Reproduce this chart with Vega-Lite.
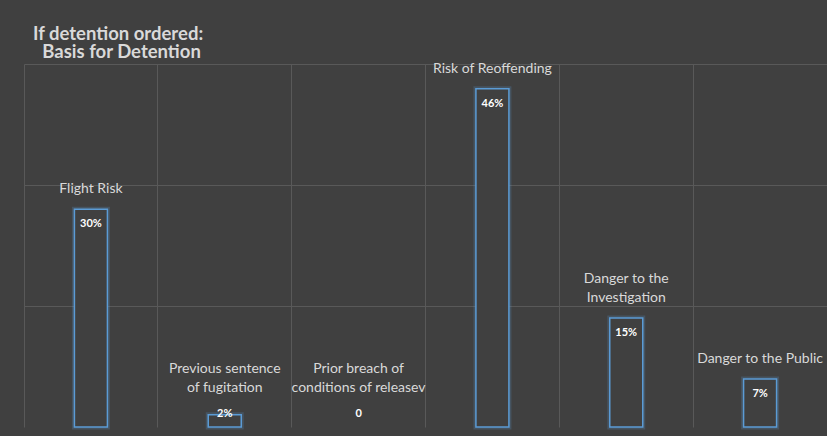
{
  "$schema": "https://vega.github.io/schema/vega-lite/v6.json",
  "autosize": {"type": "none"},
  "width": 803,
  "height": 363,
  "padding": {"left": 24, "top": 64, "right": 0, "bottom": 9},
  "background": "#404040",
  "title": {
    "text": "If detention ordered:",
    "subtitle": "\u200B\u2002Basis for Detention",
    "anchor": "start",
    "frame": "group",
    "dx": 9,
    "offset": 0,
    "subtitlePadding": 0,
    "font": "Lato",
    "fontSize": 18.5,
    "fontWeight": "bold",
    "color": "#D9D9D9",
    "subtitleFont": "Lato",
    "subtitleFontSize": 18.5,
    "subtitleFontWeight": "bold",
    "subtitleColor": "#D9D9D9",
    "subtitleLineHeight": 18
  },
  "config": {
    "view": {"stroke": null},
    "axis": {"gridColor": "#595959", "gridWidth": 1, "gridOpacity": 1}
  },
  "data": {
    "values": [
      {"category": "Flight Risk", "line2": "Flight Risk", "value": 0.30, "valueLabel": "30%"},
      {"category": "Previous sentence of fugitation", "line1": "Previous sentence", "line2": "of fugitation", "value": 0.017, "valueLabel": "2%"},
      {"category": "Prior breach of conditions of releasev", "line1": "Prior breach of", "line2": "conditions of releasev", "value": 0, "valueLabel": "0"},
      {"category": "Risk of Reoffending", "line2": "Risk of Reoffending", "value": 0.466, "valueLabel": "46%"},
      {"category": "Danger to the Investigation", "line1": "Danger to the", "line2": "Investigation", "value": 0.15, "valueLabel": "15%"},
      {"category": "Danger to the Public", "line2": "Danger to the Public", "value": 0.066, "valueLabel": "7%"}
    ]
  },
  "encoding": {
    "x": {
      "field": "category",
      "type": "nominal",
      "sort": null,
      "scale": {
        "domain": ["Flight Risk", "Previous sentence of fugitation", "Prior breach of conditions of releasev", "Risk of Reoffending", "Danger to the Investigation", "Danger to the Public"],
        "paddingInner": 0,
        "paddingOuter": 0
      },
      "axis": {
        "title": null,
        "labels": false,
        "ticks": false,
        "domain": false,
        "grid": true,
        "bandPosition": 0
      }
    },
    "y": {
      "field": "value",
      "type": "quantitative",
      "scale": {"domain": [0, 0.5], "nice": false},
      "axis": {
        "title": null,
        "labels": false,
        "ticks": false,
        "domain": false,
        "grid": true,
        "values": [0.166667, 0.333333, 0.5]
      }
    }
  },
  "layer": [
    {
      "transform": [{"filter": "datum.value > 0"}],
      "layer": [
        {
          "mark": {"type": "bar", "size": 33, "fill": null, "stroke": "#5B9BD5", "strokeWidth": 5, "strokeOpacity": 0.22}
        },
        {
          "mark": {"type": "bar", "size": 33, "fill": "#404040", "stroke": "#5B9BD5", "strokeWidth": 1.5}
        }
      ]
    },
    {
      "transform": [{"filter": "datum.value >= 0.05"}],
      "layer": [
        {
          "transform": [{"filter": "isValid(datum.line1)"}],
          "mark": {"type": "text", "font": "Lato", "fontSize": 14, "color": "#D9D9D9", "baseline": "alphabetic", "dy": -35},
          "encoding": {"text": {"field": "line1"}}
        },
        {
          "mark": {"type": "text", "font": "Lato", "fontSize": 14, "color": "#D9D9D9", "baseline": "alphabetic", "dy": -16},
          "encoding": {"text": {"field": "line2"}}
        },
        {
          "mark": {"type": "text", "font": "Lato", "fontSize": 11, "fontWeight": "bold", "color": "#FFFFFF", "baseline": "middle", "dy": 15},
          "encoding": {"text": {"field": "valueLabel"}}
        }
      ]
    },
    {
      "transform": [{"filter": "datum.value < 0.05"}],
      "layer": [
        {
          "transform": [{"filter": "isValid(datum.line1)"}],
          "mark": {"type": "text", "font": "Lato", "fontSize": 14, "color": "#D9D9D9", "baseline": "alphabetic", "dy": -54},
          "encoding": {"text": {"field": "line1"}, "y": {"datum": 0}}
        },
        {
          "mark": {"type": "text", "font": "Lato", "fontSize": 14, "color": "#D9D9D9", "baseline": "alphabetic", "dy": -35},
          "encoding": {"text": {"field": "line2"}, "y": {"datum": 0}}
        },
        {
          "mark": {"type": "text", "font": "Lato", "fontSize": 11, "fontWeight": "bold", "color": "#FFFFFF", "baseline": "middle", "dy": -13},
          "encoding": {"text": {"field": "valueLabel"}, "y": {"datum": 0}}
        }
      ]
    }
  ]
}
